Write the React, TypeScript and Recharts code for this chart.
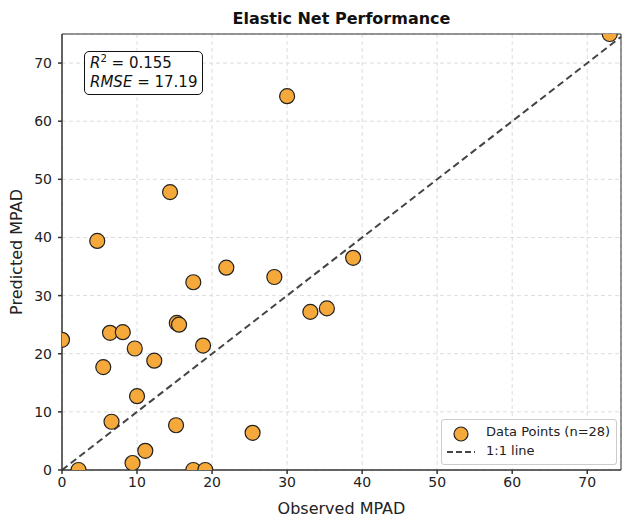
import {
  ScatterChart,
  Scatter,
  XAxis,
  YAxis,
  CartesianGrid,
  ReferenceLine,
} from "recharts";

// observed vs predicted MPAD
const observed = [
  0.0, 2.2, 4.7, 5.5, 6.4, 6.6, 8.1, 9.7, 9.4, 10.0, 11.1, 12.3, 14.4, 15.2,
  15.3, 15.6, 17.5, 17.5, 19.1, 18.8, 21.9, 25.4, 28.3, 33.1, 35.3, 38.8, 30.0,
  73.0,
];
const predicted = [
  22.4, 0.0, 39.4, 17.7, 23.6, 8.3, 23.7, 20.9, 1.2, 12.7, 3.3, 18.8, 47.8, 7.7,
  25.3, 25.0, 32.3, 0.0, 0.0, 21.4, 34.8, 6.4, 33.2, 27.2, 27.8, 36.5, 64.3,
  75.0,
];
const xMax = 74.5;
const yMax = 75.0;
const ticks = [0, 10, 20, 30, 40, 50, 60, 70];

const points = observed.map((x, i) => ({ x, y: predicted[i] }));

const font = "'DejaVu Sans', sans-serif";
const tickStyle = { fontSize: 14, fill: "#222", fontFamily: font };

export default function App() {
  return (
    <div
      style={{
        position: "absolute",
        left: 0,
        top: 0,
        width: 622,
        height: 519,
        background: "#fff",
        fontFamily: font,
      }}
    >
      <div
        style={{
          position: "absolute",
          top: 9,
          left: 62,
          width: 559,
          textAlign: "center",
          fontSize: 16,
          fontWeight: "bold",
          color: "#111",
        }}
      >
        Elastic Net Performance
      </div>

      <ScatterChart
        width={622}
        height={519}
        margin={{ top: 34, right: 1, bottom: 0, left: 0 }}
      >
        <CartesianGrid stroke="#ddd" strokeDasharray="4 3" />
        <XAxis
          type="number"
          dataKey="x"
          domain={[0, xMax]}
          ticks={ticks}
          allowDataOverflow
          height={49}
          tickSize={4}
          tickMargin={3}
          tick={tickStyle}
          stroke="#333"
          strokeWidth={1.5}
          label={{
            value: "Observed MPAD",
            position: "insideBottom",
            offset: 5,
            style: { fontSize: 16, fill: "#222", fontFamily: font },
          }}
        />
        <YAxis
          type="number"
          dataKey="y"
          domain={[0, yMax]}
          ticks={ticks}
          allowDataOverflow
          width={62}
          tickSize={4}
          tickMargin={6}
          tick={tickStyle}
          stroke="#333"
          strokeWidth={1.5}
          label={{
            value: "Predicted MPAD",
            angle: -90,
            position: "insideLeft",
            offset: 16,
            style: {
              fontSize: 16,
              fill: "#222",
              fontFamily: font,
              textAnchor: "middle",
            },
          }}
        />
        <ReferenceLine y={yMax} stroke="#333" strokeWidth={1} />
        <ReferenceLine x={xMax} stroke="#333" strokeWidth={1} />
        <ReferenceLine
          segment={[
            { x: 0, y: 0 },
            { x: xMax, y: xMax },
          ]}
          stroke="#444"
          strokeWidth={2}
          strokeDasharray="7 4"
        />
        <Scatter
          data={points}
          isAnimationActive={false}
          shape={(p: any) => (
            <circle
              cx={p.cx}
              cy={p.cy}
              r={7.5}
              fill="#F6A93B"
              stroke="#222"
              strokeWidth={1.2}
            />
          )}
        />
      </ScatterChart>

      {/* metrics box */}
      <div
        style={{
          position: "absolute",
          left: 84,
          top: 51,
          padding: "2px 5px",
          border: "1.3px solid #111",
          borderRadius: 5,
          background: "#fff",
          fontSize: 15,
          lineHeight: "19px",
          color: "#111",
        }}
      >
        <div>
          <i>R</i>
          <sup style={{ fontSize: 10, verticalAlign: "6px", lineHeight: 0 }}>2</sup>
          {" = 0.155"}
        </div>
        <div>
          <i>RMSE</i>
          {" = 17.19"}
        </div>
      </div>

      {/* legend */}
      <div
        style={{
          position: "absolute",
          left: 441,
          top: 419,
          width: 174,
          height: 44,
          border: "1px solid #ccc",
          borderRadius: 3,
          background: "rgba(255,255,255,0.9)",
          fontSize: 13,
          color: "#222",
        }}
      >
        <svg
          width={40}
          height={44}
          style={{ position: "absolute", left: 0, top: 0 }}
        >
          <circle cx={19} cy={14} r={7} fill="#F6A93B" stroke="#222" strokeWidth={1.2} />
          <line
            x1={5}
            y1={32}
            x2={33}
            y2={32}
            stroke="#444"
            strokeWidth={2}
            strokeDasharray="6 3"
          />
        </svg>
        <div style={{ position: "absolute", left: 44, top: 4 }}>
          Data Points (n=28)
        </div>
        <div style={{ position: "absolute", left: 44, top: 23 }}>1:1 line</div>
      </div>
    </div>
  );
}
